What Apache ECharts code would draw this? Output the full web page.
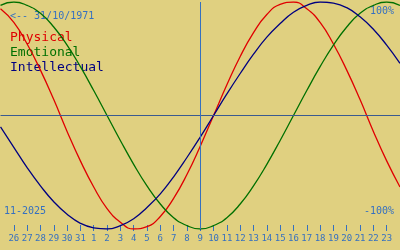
<!DOCTYPE html>
<html>
<head>
<meta charset="utf-8">
<script src="https://cdn.jsdelivr.net/npm/echarts@6/dist/echarts.min.js"></script>
<style>
html,body{margin:0;padding:0;background:#e0d080;}
#chart{width:400px;height:250px;}
</style>
</head>
<body>
<div id="chart"></div>
<script>
// x = day index: 0 = 25 Oct 2025 ... 30 = 24 Nov 2025; today (9 Nov) = 15
var dayLabels = ["25","26","27","28","29","30","31","1","2","3","4","5","6","7","8","9",
  "10","11","12","13","14","15","16","17","18","19","20","21","22","23","24"];
var physical = [0.94,0.82,0.63,0.40,0.14,-0.14,-0.40,-0.63,-0.82,-0.94,-1.00,-0.98,-0.89,-0.73,-0.52,-0.27,
  0.00,0.27,0.52,0.73,0.89,0.98,1.00,0.94,0.82,0.63,0.40,0.14,-0.14,-0.40,-0.63];
var emotional = [0.97,1.00,0.97,0.90,0.78,0.62,0.43,0.22,0.00,-0.22,-0.43,-0.62,-0.78,-0.90,-0.97,-1.00,
  -0.97,-0.90,-0.78,-0.62,-0.43,-0.22,0.00,0.22,0.43,0.62,0.78,0.90,0.97,1.00,0.97];
var intellectual = [-0.10,-0.28,-0.46,-0.62,-0.76,-0.87,-0.95,-0.99,-1.00,-0.97,-0.91,-0.81,-0.69,-0.54,-0.37,-0.19,
  0.00,0.19,0.37,0.54,0.69,0.81,0.91,0.97,1.00,0.99,0.95,0.87,0.76,0.62,0.46];
var todayIndex = 15;
var birthText = "<-- 31/10/1971";
var monthText = "11-2025";
var legendNames = ["Physical","Emotional","Intellectual"];
var colors = ["#e00000","#007000","#000080"];
var axisBlue = "#3570c0";
var zeroLineColor = "#3a5a90";
var mono = "DejaVu Sans Mono";

function pairs(arr){ return arr.map(function(v,i){ return [i,v]; }); }

var chart = echarts.init(document.getElementById('chart'), null, {renderer:'canvas'});
var seriesData = [physical, emotional, intellectual];
var series = seriesData.map(function(arr, k){
  return {
    type:'line', name:legendNames[k], data:pairs(arr), smooth:0.5, symbol:'none',
    lineStyle:{color:colors[k], width:1.3}, silent:true, animation:false, z:3
  };
});
series.push({
  type:'line', data:[], silent:true, animation:false, z:2,
  markLine:{
    silent:true, symbol:'none', animation:false,
    label:{show:false},
    lineStyle:{width:1, type:'solid'},
    data:[
      {yAxis:0, lineStyle:{color:zeroLineColor}},
      [{coord:[todayIndex,1.0], lineStyle:{color:axisBlue}},{coord:[todayIndex,-1.0]}]
    ]
  }
});

chart.setOption({
  backgroundColor:'#e0d080',
  animation:false,
  grid:{left:0.5, top:2, width:400, height:227, containLabel:false},
  xAxis:{
    type:'value', min:0, max:30, interval:1, offset:2,
    axisLine:{show:false, onZero:false},
    splitLine:{show:false},
    axisTick:{show:true, inside:true, length:6, lineStyle:{color:axisBlue, width:1}},
    axisLabel:{
      show:true, margin:3, color:axisBlue, fontFamily:mono, fontSize:9,
      showMinLabel:false, showMaxLabel:false, hideOverlap:false,
      formatter:function(v){ return dayLabels[v] || ''; }
    }
  },
  yAxis:{
    type:'value', min:-1, max:1, show:false
  },
  graphic:[
    {type:'text', left:10, top:11, style:{text:birthText, fill:axisBlue, font:'10px "DejaVu Sans Mono"'}},
    {type:'text', left:10, top:31, style:{text:legendNames[0], fill:colors[0], font:'13px "DejaVu Sans Mono"'}},
    {type:'text', left:10, top:46, style:{text:legendNames[1], fill:colors[1], font:'13px "DejaVu Sans Mono"'}},
    {type:'text', left:10, top:61, style:{text:legendNames[2], fill:colors[2], font:'13px "DejaVu Sans Mono"'}},
    {type:'text', right:6, top:6, style:{text:"100%", fill:axisBlue, font:'10px "DejaVu Sans Mono"'}},
    {type:'text', right:6, top:206, style:{text:"-100%", fill:axisBlue, font:'10px "DejaVu Sans Mono"'}},
    {type:'text', left:4, top:206, style:{text:monthText, fill:axisBlue, font:'10px "DejaVu Sans Mono"'}}
  ],
  series:series
});
</script>
</body>
</html>
